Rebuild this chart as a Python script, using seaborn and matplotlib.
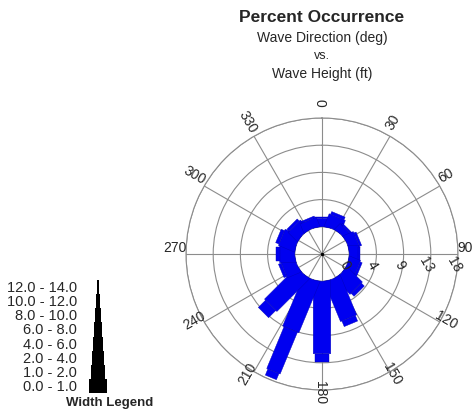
import numpy as np
import seaborn as sns
import matplotlib.pyplot as plt
from matplotlib.patches import Polygon
from matplotlib.transforms import offset_copy

# wave directions (deg, compass) and percent occurrence per wave height bin
directions = [0, 22.5, 45, 67.5, 90, 112.5, 135, 157.5,
              180, 202.5, 225, 247.5, 270, 292.5, 315, 337.5]
pct_0_1 = [1.4, 2.1, 1.2, 1.7, 1.5, 1.8, 3.5, 7.0,
           12.0, 9.0, 7.5, 2.3, 2.5, 2.7, 2.0, 1.5]
pct_1_2 = [0.3, 0.5, 0.3, 0.4, 0.3, 0.4, 0.7, 1.0,
           1.4, 7.5, 1.7, 0.5, 0.6, 0.6, 0.5, 0.3]
pct_2_4 = [0, 0, 0, 0, 0, 0, 0, 0,
           0, 1.1, 0, 0, 0, 0, 0, 0]

height_bins = ["0.0 - 1.0", "1.0 - 2.0", "2.0 - 4.0", "4.0 - 6.0",
               "6.0 - 8.0", "8.0 - 10.0", "10.0 - 12.0", "12.0 - 14.0"]
ring_values = [0, 4.5, 9, 13.5, 18]
ring_labels = ["0", "4", "9", "13", "18"]
angle_ticks = list(range(0, 360, 30))

# bar width (pixels) for each height bin
bin_width_px = np.array([17.5, 14.5, 12, 10, 8, 6, 4, 1.7])

sns.set_style("white")
plt.rcParams['font.family'] = ['Liberation Sans', 'DejaVu Sans']

BAR_BLUE = '#0000f0'
GRID = '#8c8c8c'
HOLE = 4.5
RMAX = 18
R_PX = 136

fig = plt.figure(figsize=(4.74, 4.14), dpi=100)
fig.patch.set_facecolor('white')

ax = fig.add_axes([(322 - R_PX) / 474, (414 - 255 - R_PX) / 414,
                   2 * R_PX / 474, 2 * R_PX / 414], projection='polar')
ax.set_theta_zero_location('N')
ax.set_theta_direction(-1)
ax.set_ylim(-HOLE, RMAX)
ax.set_xticks(np.radians(angle_ticks))
ax.set_xticklabels([])
ax.set_yticks(ring_values)
ax.set_yticklabels([])
ax.set_axisbelow(True)
ax.grid(True, color=GRID, linewidth=0.8)
ax.spines['polar'].set_color(GRID)
ax.spines['polar'].set_linewidth(0.8)
ax.set_facecolor('white')

units_per_px = (RMAX + HOLE) / R_PX


def bar_segment(phi, start, end, half, inner_arc):
    # rectangle along direction phi, built in local (along, across) coords
    a0, a1 = HOLE + start, HOLE + end
    if inner_arc:
        across = np.linspace(-half, half, 15)
        along = np.sqrt(HOLE ** 2 - across ** 2)
    else:
        across = np.array([-half, half])
        along = np.array([a0, a0])
    pts_along = np.concatenate([along, [a1, a1]])
    pts_across = np.concatenate([across, [half, -half]])
    theta = phi + np.arctan2(pts_across, pts_along)
    r = np.hypot(pts_along, pts_across) - HOLE
    return np.column_stack([theta, r])


series = [pct_0_1, pct_1_2, pct_2_4]
for i, d in enumerate(directions):
    phi = np.radians(d)
    cum = 0.0
    for b, vals in enumerate(series):
        v = vals[i]
        if v <= 0:
            continue
        half = bin_width_px[b] / 2 * units_per_px
        verts = bar_segment(phi, cum, cum + v, half, cum == 0)
        ax.add_patch(Polygon(verts, closed=True, facecolor=BAR_BLUE,
                             edgecolor='#0000b8', linewidth=0.3, zorder=2))
        cum += v

ax.plot(0, -HOLE, marker='.', color='black', markersize=3, zorder=3)

# angle labels, rotated along the radius (label ring sits a bit high)
label_r = 145 * units_per_px - HOLE
label_tr = offset_copy(ax.transData, fig=fig, x=-2, y=7, units='dots')
for a in angle_ticks:
    m = 90 - a
    rot = ((m + 90) % 180) - 90
    ax.text(np.radians(a), label_r, str(a), transform=label_tr,
            ha='center', va='center', rotation=rot, rotation_mode='anchor',
            fontsize=10, clip_on=False)

# ring labels just below the east spoke
ring_tr = offset_copy(ax.transData, fig=fig, x=-4, y=-10, units='dots')
for rv, lab in zip(ring_values, ring_labels):
    ax.text(np.pi / 2, rv, lab, transform=ring_tr, ha='center', va='center',
            rotation=-60, fontsize=10, clip_on=False)

# titles
cx = 322 / 474
fig.text(cx, 1 - 17 / 414, "Percent Occurrence", ha='center', va='center',
         fontsize=12.5, fontweight='bold')
fig.text(cx, 1 - 38 / 414, "Wave Direction (deg)", ha='center', va='center',
         fontsize=10)
fig.text(cx, 1 - 56 / 414, "vs.", ha='center', va='center', fontsize=9)
fig.text(cx, 1 - 74 / 414, "Wave Height (ft)", ha='center', va='center',
         fontsize=10)

# width legend
ax_leg = fig.add_axes([0, 20 / 414, 130 / 474, 113 / 414])
ax_leg.set_xlim(-98, 32)
ax_leg.set_ylim(-0.5, len(height_bins) - 0.5)
ax_leg.barh(range(len(height_bins)), bin_width_px, left=-bin_width_px / 2,
            height=1.0, color='black', linewidth=0)
for i, lab in enumerate(height_bins):
    ax_leg.text(-21, i, lab, ha='right', va='center', fontsize=10.5)
ax_leg.axis('off')
fig.text(110 / 474, 1 - 403 / 414, "Width Legend", ha='center', va='center',
         fontsize=9.5, fontweight='bold')

fig.savefig('out.png', dpi=100)
